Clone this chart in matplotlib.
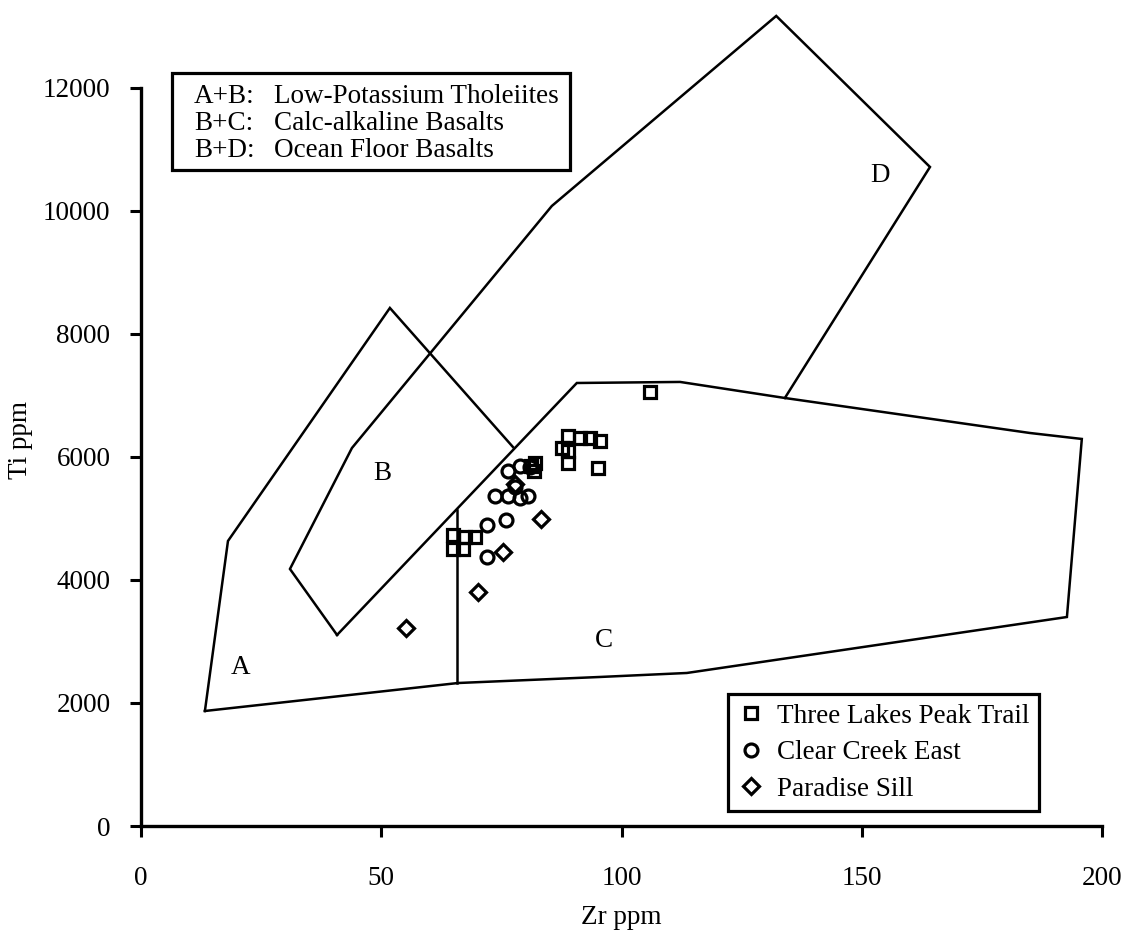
import matplotlib
matplotlib.use("Agg")
import matplotlib.pyplot as plt
from matplotlib.patches import Rectangle

plt.rcParams['font.family'] = ['Liberation Serif', 'DejaVu Serif']
FS = 19.5

# field boundaries (Zr ppm, Ti ppm)
outer_ab_zr = [13.3, 18.1, 51.8, 77.4]
outer_ab_ti = [1870, 4634, 8423, 6163]

field_d_zr = [40.8, 31.0, 43.9, 85.5, 132.2, 164.2, 134.0]
field_d_ti = [3106, 4179, 6146, 10081, 13171, 10715, 6959]

field_c_zr = [40.8, 90.7, 112.2, 134.0, 185.0, 195.8, 192.7, 113.6, 95.5, 66.0, 13.3]
field_c_ti = [3106, 7203, 7220, 6959, 6390, 6293, 3398, 2488, 2423, 2325, 1870]

divider_zr = [65.8, 65.8]
divider_ti = [5140, 2325]

field_labels = ['A', 'B', 'C', 'D']
label_zr = [20.8, 50.2, 96.4, 153.8]
label_ti = [2585, 5724, 3024, 10570]

# samples
tlpt_zr = [64.9, 64.9, 67.4, 69.5, 67.0, 81.2, 82.0, 81.8, 87.6, 88.9, 88.9, 88.9,
           91.4, 93.4, 95.5, 95.1, 105.9]
tlpt_ti = [4732, 4504, 4699, 4699, 4504, 5854, 5902, 5772, 6146, 6341, 6098, 5902,
           6309, 6309, 6260, 5821, 7057]

cce_zr = [76.4, 78.9, 81.0, 77.8, 73.7, 76.4, 78.9, 80.5, 76.0, 72.0, 72.0]
cce_ti = [5772, 5854, 5837, 5512, 5366, 5366, 5333, 5366, 4976, 4894, 4374]

ps_zr = [55.2, 70.1, 75.3, 83.2, 77.8]
ps_ti = [3220, 3805, 4455, 4992, 5560]

key_lines = ['A+B:', 'B+C:', 'B+D:']
key_names = ['Low-Potassium Tholeiites', 'Calc-alkaline Basalts', 'Ocean Floor Basalts']

W, H = 1129, 934
fig = plt.figure(figsize=(W / 100, H / 100), dpi=100)
ax = fig.add_axes([141 / W, 108 / H, 961 / W, 818 / H])
ax.set_xlim(0, 200)
ax.set_ylim(0, 13300)

lkw = dict(color='black', lw=1.8, clip_on=False, solid_joinstyle='miter')
ax.plot(outer_ab_zr, outer_ab_ti, **lkw)
ax.plot(field_d_zr, field_d_ti, **lkw)
ax.plot(field_c_zr, field_c_ti, **lkw)
ax.plot(divider_zr, divider_ti, **lkw)

for lab, x, y in zip(field_labels, label_zr, label_ti):
    ax.text(x, y, lab, ha='center', va='center', fontsize=FS)

mkw = dict(ls='none', mfc='none', mec='black', mew=2.3, clip_on=False)
ax.plot(tlpt_zr, tlpt_ti, marker='s', ms=9.3, label='Three Lakes Peak Trail', **mkw)
ax.plot(cce_zr, cce_ti, marker='o', ms=9.3, label='Clear Creek East', **mkw)
ax.plot(ps_zr, ps_ti, marker='D', ms=8.6, label='Paradise Sill', **mkw)

for side in ['top', 'right']:
    ax.spines[side].set_visible(False)
ax.spines['left'].set_bounds(0, 12000)
ax.spines['bottom'].set_bounds(0, 200)
for side in ['left', 'bottom']:
    ax.spines[side].set_linewidth(2.4)

ax.set_xticks([0, 50, 100, 150, 200])
ax.set_yticks(range(0, 12001, 2000))
ax.tick_params(axis='both', direction='out', length=8, width=2.2, labelsize=FS)
ax.tick_params(axis='x', pad=21)
ax.tick_params(axis='y', pad=14)

ax.set_xlabel('Zr ppm', fontsize=FS)
ax.xaxis.set_label_coords(0.5, -0.096)
ax.set_ylabel('Ti ppm', fontsize=FS)
ax.yaxis.set_label_coords(-0.112, 0.472)

leg = ax.legend(loc='upper left', bbox_to_anchor=(728 / W, 1 - 694 / H),
                bbox_transform=fig.transFigure, fancybox=False, edgecolor='black',
                framealpha=1, borderaxespad=0, handlelength=1.0, handletextpad=0.45,
                labelspacing=0.42, borderpad=0.36, fontsize=FS, numpoints=1)
leg.get_frame().set_linewidth(2.3)

# key box in the upper left
fig.patches.append(Rectangle((172 / W, 1 - 170 / H), 398 / W, 97 / H,
                             transform=fig.transFigure, fill=False,
                             edgecolor='black', lw=2.3))
for i, (a, b) in enumerate(zip(key_lines, key_names)):
    yb = 1 - (103 + 27 * i) / H
    fig.text(194 / W, yb, a, fontsize=FS, va='baseline')
    fig.text(274 / W, yb, b, fontsize=FS, va='baseline')

fig.savefig('out.png', dpi=100)
